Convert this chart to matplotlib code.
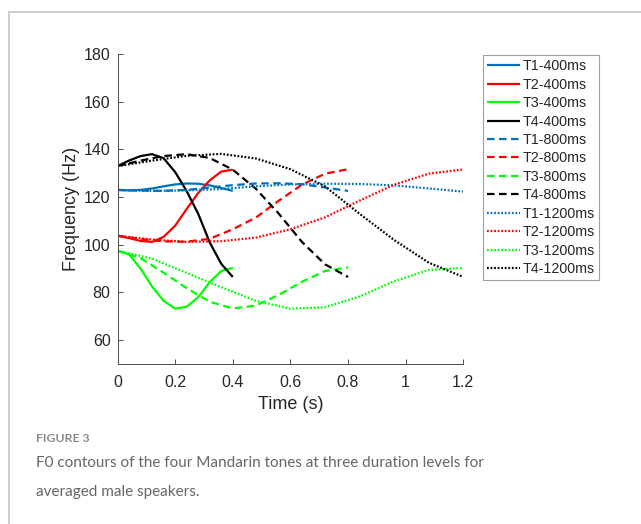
import matplotlib
matplotlib.use("Agg")
import matplotlib.pyplot as plt
from matplotlib.lines import Line2D

# ---------------- data ----------------
t400 = [0, 0.04, 0.08, 0.12, 0.16, 0.20, 0.24, 0.28, 0.32, 0.36, 0.40]
t800 = [0, 0.08, 0.16, 0.24, 0.32, 0.40, 0.48, 0.56, 0.64, 0.72, 0.80]
t1200 = [0, 0.12, 0.24, 0.36, 0.48, 0.60, 0.72, 0.84, 0.96, 1.08, 1.20]

T1_400 = [123, 122.8, 123, 123.6, 124.5, 125.3, 125.7, 125.6, 124.9, 123.8, 122.6]
T2_400 = [103.8, 102.8, 101.6, 101.2, 103.3, 108, 115, 121.7, 127, 130.7, 131.5]
T3_400 = [97.5, 96, 90, 82.5, 76.5, 73.2, 74, 78, 84.3, 89, 90.3]
T4_400 = [133, 135.3, 137.2, 138, 136.3, 130.5, 122.5, 113, 101, 92, 86.5]

T1_800 = [123, 122.7, 122.6, 123, 124, 125, 125.7, 125.8, 125.4, 124, 122.6]
T2_800 = [103.8, 102.4, 101.4, 101.3, 102.5, 106.5, 111.4, 118.5, 125.2, 129.8, 131.7]
T3_800 = [97.5, 94.4, 88.3, 81.8, 76.1, 73.3, 74.5, 79, 84.5, 89, 90.5]
T4_800 = [133, 135.3, 137.2, 138, 136.4, 131.5, 123.5, 113, 101.2, 91.8, 86.5]

T1_1200 = [123, 122.6, 122.8, 123.4, 124.5, 125.3, 125.6, 125.5, 124.9, 123.6, 122.3]
T2_1200 = [103.8, 102.2, 101.2, 101.5, 103, 106.5, 111.5, 118.5, 125.2, 129.8, 131.6]
T3_1200 = [97.5, 94.2, 88.2, 82.2, 76.5, 73.2, 73.8, 78.3, 84.7, 89.4, 90.3]
T4_1200 = [133, 135.3, 137.3, 138.1, 136.2, 131.7, 124.5, 113, 102, 92.5, 86.5]

labels = ["T1-400ms", "T2-400ms", "T3-400ms", "T4-400ms",
          "T1-800ms", "T2-800ms", "T3-800ms", "T4-800ms",
          "T1-1200ms", "T2-1200ms", "T3-1200ms", "T4-1200ms"]
xticks = [0, 0.2, 0.4, 0.6, 0.8, 1.0, 1.2]
xticklabels = ["0", "0.2", "0.4", "0.6", "0.8", "1", "1.2"]
yticks = [60, 80, 100, 120, 140, 160, 180]

# ---------------- style ----------------
colors = ["#0072BD", "#FF0000", "#00FF00", "#000000"]
solid = "-"
dashed = (0, (3.4, 2.0))
dotted = (0, (0.8, 0.8))

W, H = 641, 524
fig = plt.figure(figsize=(W / 100, H / 100), dpi=100)
fig.patch.set_facecolor("white")

ax = fig.add_axes([117.5 / W, 1 - 364 / H, (463.3 - 117.5) / W, (364 - 54) / H])

series = [
    (t400, T1_400, 0, solid), (t400, T2_400, 1, solid), (t400, T3_400, 2, solid), (t400, T4_400, 3, solid),
    (t800, T1_800, 0, dashed), (t800, T2_800, 1, dashed), (t800, T3_800, 2, dashed), (t800, T4_800, 3, dashed),
    (t1200, T1_1200, 0, dotted), (t1200, T2_1200, 1, dotted), (t1200, T3_1200, 2, dotted), (t1200, T4_1200, 3, dotted),
]
for (tt, ff, ci, ls), lab in zip(series, labels):
    ax.plot(tt, ff, color=colors[ci], linestyle=ls, lw=1.6, label=lab,
            solid_capstyle="butt", dash_capstyle="butt")

ax.set_xlim(0, 1.2)
ax.set_ylim(50, 180)
ax.set_xticks(xticks)
ax.set_xticklabels(xticklabels)
ax.set_yticks(yticks)

font = "Liberation Sans"
txtc = "#262626"
for s in ["top", "right"]:
    ax.spines[s].set_visible(False)
for s in ["left", "bottom"]:
    ax.spines[s].set_color("#4d4d4d")
    ax.spines[s].set_linewidth(0.7)
ax.tick_params(direction="in", length=3.5, width=0.7, color="#4d4d4d",
               labelsize=11.5, labelcolor=txtc)
ax.tick_params(axis="x", pad=8)
ax.tick_params(axis="y", pad=5)
for lab in ax.get_xticklabels() + ax.get_yticklabels():
    lab.set_family(font)

ax.set_xlabel("Time (s)", fontsize=13, family=font, color=txtc, labelpad=4)
ax.set_ylabel("Frequency (Hz)", fontsize=13, family=font, color=txtc, labelpad=3)

leg = ax.legend(loc="upper left", bbox_to_anchor=(483 / W, 1 - 55 / H),
                bbox_transform=fig.transFigure, borderaxespad=0,
                prop={"family": font, "size": 10.3}, fancybox=False,
                handlelength=2.3, handletextpad=0.15, labelspacing=0.31,
                borderpad=0.3, frameon=True)
leg.get_frame().set_edgecolor("#888888")
leg.get_frame().set_linewidth(0.8)
for txt in leg.get_texts():
    txt.set_color(txtc)

# outer frame of the figure panel
fig.add_artist(Line2D([9 / W, 1.0], [1 - 12 / H, 1 - 12 / H], transform=fig.transFigure,
                      color="#c4c4c4", lw=1.2))
fig.add_artist(Line2D([9 / W, 9 / W], [0, 1 - 12 / H], transform=fig.transFigure,
                      color="#c4c4c4", lw=1.2))

# caption
cap_font = ["Lato", "DejaVu Sans"]
fig.text(36 / W, 1 - 439 / H, "FIGURE 3", family=cap_font, fontsize=8.8, fontweight="bold",
         color="#8a8a8a", va="center", ha="left")
fig.text(36 / W, 1 - 463 / H, "F0 contours of the four Mandarin tones at three duration levels for",
         family=cap_font, fontsize=11, color="#666666", va="center", ha="left")
fig.text(36 / W, 1 - 492 / H, "averaged male speakers.",
         family=cap_font, fontsize=11, color="#666666", va="center", ha="left")

fig.savefig("out.png", dpi=100)
